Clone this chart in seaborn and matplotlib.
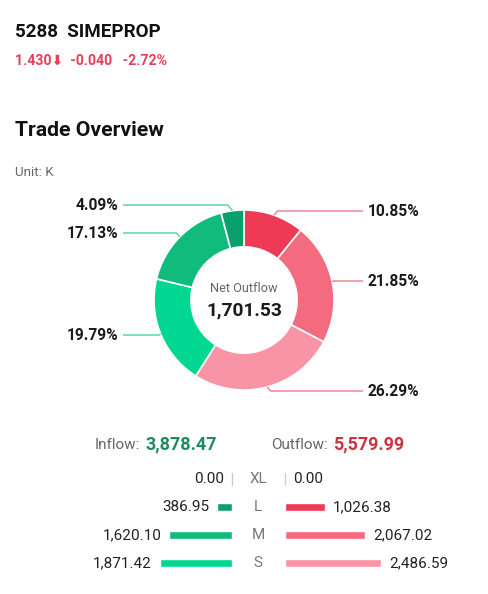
import numpy as np
import pandas as pd
import seaborn as sns
import matplotlib.pyplot as plt
from matplotlib import transforms

# ---- data ----
sizes = ["XL", "L", "M", "S"]
inflow = [0.00, 386.95, 1620.10, 1871.42]
outflow = [0.00, 1026.38, 2067.02, 2486.59]
inflow_total = 3878.47
outflow_total = 5579.99
net_outflow = 1701.53
green = ["#0aa06e", "#0aa06e", "#10bb7c", "#00d891"]
red = ["#ee3a55", "#ee3a55", "#f46a7e", "#f994a6"]

# donut order: clockwise from top, outflow L/M/S then inflow S/M/L
donut_vals = outflow[1:] + inflow[1:][::-1]
donut_cols = red[1:] + green[1:][::-1]
# label heights (pixels) chosen to keep labels apart
label_py = [211, 281, 391, 335, 233, 205]

sns.set_theme(style="white")
plt.rcParams["font.family"] = ["Roboto", "DejaVu Sans"]

W, H = 488, 594
fig = plt.figure(figsize=(W / 100, H / 100), dpi=100)
fig.patch.set_facecolor("white")


def fx(x):
    return x / W


def fy(y):
    return 1 - y / H


# header
fig.text(fx(15), fy(37), "5288  SIMEPROP", fontsize=13.5, fontweight="bold", color="#111111")
fig.text(fx(15), fy(65), "1.430\u2B07  -0.040   -2.72%", fontsize=10.2, fontweight="semibold", color="#e5405a")
fig.text(fx(15), fy(136), "Trade Overview", fontsize=15.3, fontweight="bold", color="#111111")
fig.text(fx(15), fy(176), "Unit: K", fontsize=9.6, color="#666666")

# donut
cx, cy, R = 244, 300, 90
ax = fig.add_axes([fx(cx - 200), fy(cy + 200), 400 / W, 400 / H])
wedges, _ = ax.pie(donut_vals, colors=donut_cols, startangle=90, counterclock=False,
                   radius=1.0, wedgeprops=dict(width=0.41, edgecolor="white", linewidth=1.2))
lim = 200 / R
ax.set_xlim(-lim, lim)
ax.set_ylim(-lim, lim)
ax.set_aspect("equal")
ax.axis("off")

total = sum(donut_vals)
for w, v, ly in zip(wedges, donut_vals, label_py):
    ang = np.deg2rad((w.theta1 + w.theta2) / 2)
    x0, y0 = np.cos(ang), np.sin(ang)
    yl = (cy - ly) / R
    side = 1 if x0 > 0 else -1
    dy = abs(yl - y0)
    xe = x0 + side * 0.8 * dy
    if side > 0:
        xend = (363 - cx) / R
        xt = (368 - cx) / R
        ha = "left"
        lc = "#e8899a"
    else:
        xend = (123 - cx) / R
        xt = (118 - cx) / R
        ha = "right"
        lc = "#5fd2ae"
    ax.plot([x0, xe, xend], [y0, yl, yl], color=lc, lw=1.1, clip_on=False, solid_capstyle="butt")
    ax.text(xt, yl, f"{v / total * 100:.2f}%", ha=ha, va="center", fontsize=11.2,
            fontweight="bold", color="#1a1a1a")

ax.text(0, (cy - 288) / R, "Net Outflow", ha="center", va="center", fontsize=9.2, color="#666666")
ax.text(0, (cy - 310) / R, f"{net_outflow:,.2f}", ha="center", va="center", fontsize=13.8,
        fontweight="bold", color="#1a1a1a")

# inflow / outflow totals
fig.text(fx(95), fy(449), "Inflow:", fontsize=11, color="#666666")
fig.text(fx(146), fy(449), f"{inflow_total:,.2f}", fontsize=13, fontweight="bold", color="#1f8a5b")
fig.text(fx(271), fy(449), "Outflow:", fontsize=11, color="#666666")
fig.text(fx(333), fy(449), f"{outflow_total:,.2f}", fontsize=13, fontweight="bold", color="#c8343f")

# size bars
scale_max = 100 / 0.0386
df = pd.DataFrame({"size": sizes, "inflow": inflow, "outflow": outflow})
ax_l = fig.add_axes([fx(132), fy(577), 100 / W, 112 / H])
ax_r = fig.add_axes([fx(285), fy(577), 100 / W, 112 / H])
sns.barplot(data=df, x="inflow", y="size", hue="size", palette=green, legend=False,
            orient="h", width=0.28, saturation=1, ax=ax_l)
sns.barplot(data=df, x="outflow", y="size", hue="size", palette=red, legend=False,
            orient="h", width=0.28, saturation=1, ax=ax_r)
ax_l.set_xlim(scale_max, 0)
ax_r.set_xlim(0, scale_max)
for a, vals, off, ha in [(ax_l, inflow, -8, "right"), (ax_r, outflow, 8, "left")]:
    a.set_ylim(3.5, -0.5)
    a.axis("off")
    for i, v in enumerate(vals):
        if v == 0:
            a.plot([0, 0], [i - 0.2, i + 0.2], color="#cccccc", lw=1, clip_on=False)
        a.annotate(f"{v:,.2f}", xy=(v, i), xytext=(off * 0.72, 0), textcoords="offset points",
                   ha=ha, va="center", fontsize=11, color="#222222")

tr = transforms.blended_transform_factory(fig.transFigure, ax_r.transData)
for i, s in enumerate(sizes):
    fig.text(fx(258), i, s, transform=tr, ha="center", va="center", fontsize=11, color="#777777")

fig.savefig("out.png", dpi=100, facecolor="white")
